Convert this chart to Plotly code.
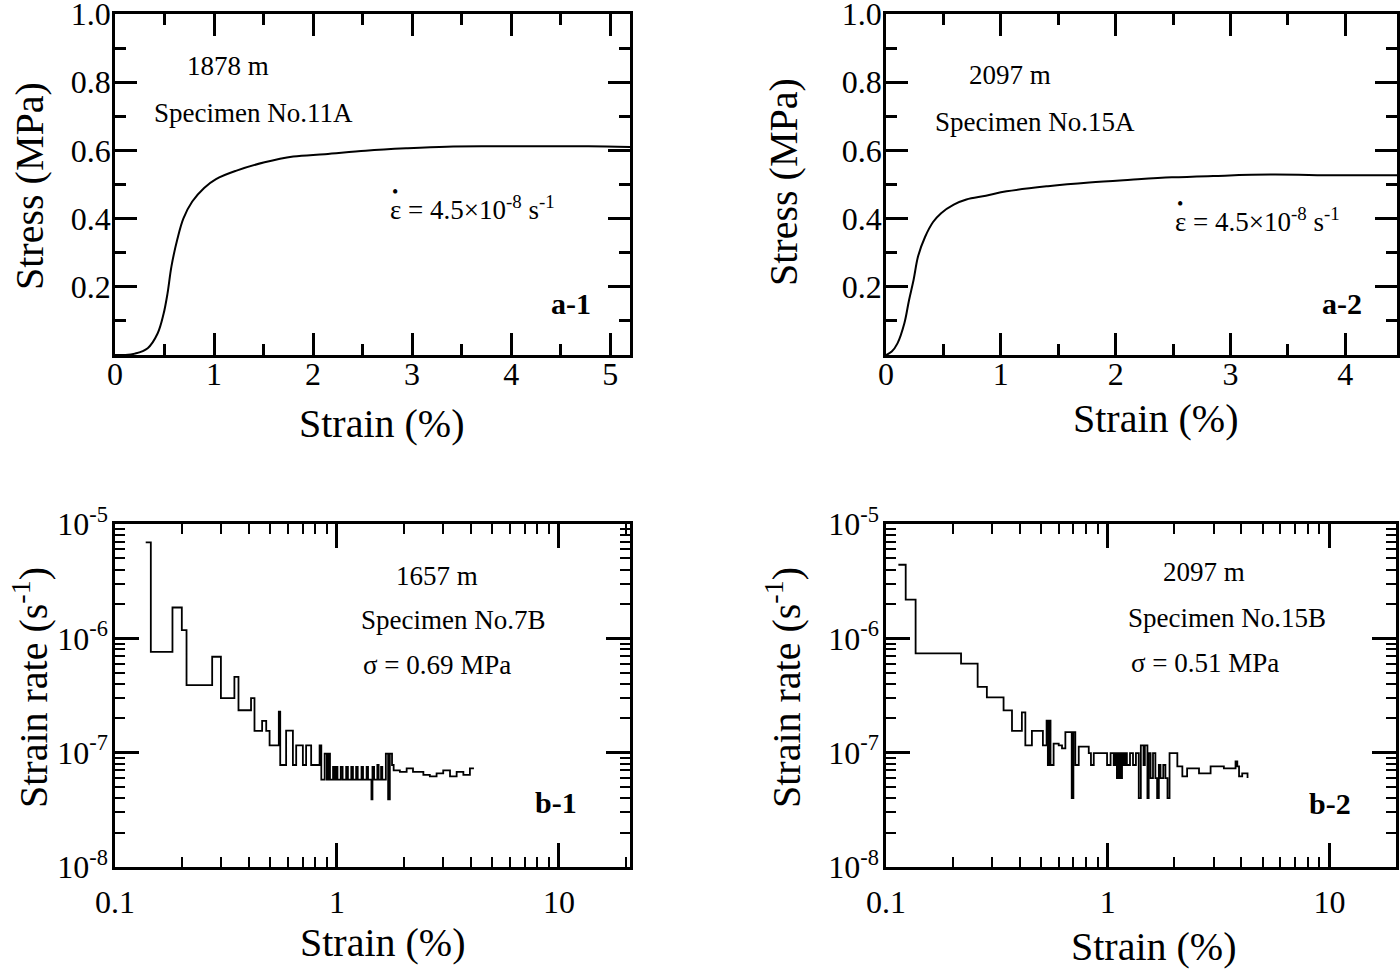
import plotly.graph_objects as go

# ---- data ----
a1_strain = [0, 0.1, 0.2, 0.33, 0.43, 0.49, 0.53, 0.57, 0.63, 0.69, 0.78, 0.9, 1.02,
             1.22, 1.51, 1.8, 2.12, 2.53, 2.94, 3.35, 3.8, 4.16, 4.78, 5.2]
a1_stress = [0, 0.0, 0.004, 0.02, 0.063, 0.12, 0.18, 0.26, 0.34, 0.40, 0.45, 0.49, 0.516,
             0.54, 0.565, 0.582, 0.589, 0.599, 0.606, 0.611, 0.612, 0.612, 0.612, 0.61]

a2_strain = [0, 0.05, 0.1, 0.16, 0.2, 0.24, 0.28, 0.34, 0.41, 0.48, 0.59, 0.7, 0.87,
             1.05, 1.41, 1.77, 2.13, 2.49, 2.85, 3.35, 3.92, 4.5]
a2_stress = [0, 0.01, 0.034, 0.093, 0.16, 0.22, 0.29, 0.346, 0.39, 0.416, 0.441, 0.456, 0.467,
             0.48, 0.495, 0.506, 0.514, 0.521, 0.525, 0.529, 0.527, 0.527]

b1_strain = [0.1375, 0.145, 0.1815, 0.20, 0.21, 0.274, 0.30, 0.345, 0.36, 0.41, 0.425,
             0.46, 0.48, 0.497, 0.547, 0.555, 0.57, 0.59, 0.633, 0.655, 0.702, 0.726,
             0.765, 0.835, 0.85, 0.88, 0.90, 0.915, 0.93, 0.96, 0.975, 0.99, 1.005,
             1.04, 1.06, 1.10, 1.12, 1.16, 1.18, 1.22, 1.24, 1.29, 1.31, 1.36, 1.38,
             1.43, 1.445, 1.47, 1.52, 1.54, 1.58, 1.60, 1.66, 1.70, 1.73, 1.77, 1.80,
             1.92, 2.06, 2.20, 2.45, 2.62, 2.81, 3.01, 3.23, 3.46, 3.71, 3.97, 4.14]
b1_rate = [6.9e-6, 7.6e-7, 1.86e-6, 1.18e-6, 3.9e-7, 6.9e-7, 3.0e-7, 4.6e-7, 2.35e-7, 3.0e-7, 1.55e-7,
           1.9e-7, 1.55e-7, 1.16e-7, 2.29e-7, 7.8e-8, 7.8e-8, 1.56e-7, 7.8e-8, 1.16e-7, 7.8e-8, 1.16e-7,
           7.8e-8, 1.16e-7, 5.8e-8, 9.8e-8, 5.8e-8, 9.8e-8, 5.8e-8, 7.5e-8, 5.8e-8, 7.5e-8, 5.8e-8,
           7.5e-8, 5.8e-8, 7.5e-8, 5.8e-8, 7.5e-8, 5.8e-8, 7.5e-8, 5.8e-8, 7.5e-8, 5.8e-8, 7.5e-8, 5.8e-8,
           3.9e-8, 7.5e-8, 5.8e-8, 7.8e-8, 5.8e-8, 7.5e-8, 5.8e-8, 9.8e-8, 3.9e-8, 9.8e-8, 7.8e-8, 7.0e-8,
           6.8e-8, 7.3e-8, 6.8e-8, 6.4e-8, 6.2e-8, 6.6e-8, 7.0e-8, 6.2e-8, 6.8e-8, 6.4e-8, 7.3e-8, 7.3e-8]

b2_strain = [0.1137, 0.1227, 0.136, 0.218, 0.259, 0.285, 0.339, 0.37, 0.41, 0.425, 0.455,
             0.51, 0.53, 0.537, 0.545, 0.552, 0.57, 0.601, 0.622, 0.644, 0.688, 0.70,
             0.714, 0.74, 0.821, 0.84, 0.865, 0.993, 1.03, 1.064, 1.08, 1.10, 1.12,
             1.14, 1.16, 1.18, 1.20, 1.22, 1.26, 1.30, 1.34, 1.38, 1.41, 1.45, 1.47,
             1.51, 1.53, 1.56, 1.60, 1.64, 1.67, 1.70, 1.73, 1.78, 1.82, 1.86, 1.90,
             2.06, 2.17, 2.28, 2.58, 2.91, 3.34, 3.77, 3.84, 3.91, 4.04, 4.27]
b2_rate = [4.4e-6, 2.18e-6, 7.4e-7, 6.0e-7, 3.76e-7, 3.04e-7, 2.34e-7, 1.55e-7, 2.25e-7, 1.16e-7, 1.55e-7,
           1.16e-7, 1.91e-7, 7.8e-8, 1.91e-7, 7.8e-8, 1.2e-7, 1.16e-7, 1.09e-7, 1.51e-7, 4.0e-8, 1.51e-7,
           7.8e-8, 1.13e-7, 9.9e-8, 7.8e-8, 9.9e-8, 7.8e-8, 9.9e-8, 7.8e-8, 9.9e-8, 6.0e-8, 9.9e-8,
           6.0e-8, 9.9e-8, 7.8e-8, 9.9e-8, 7.8e-8, 9.9e-8, 7.8e-8, 9.9e-8, 4.0e-8, 1.16e-7, 7.8e-8, 1.16e-7,
           4.0e-8, 9.9e-8, 6.0e-8, 9.9e-8, 6.0e-8, 4.0e-8, 7.8e-8, 6.0e-8, 7.8e-8, 6.0e-8, 4.0e-8, 9.9e-8,
           7.6e-8, 6.2e-8, 7.3e-8, 6.6e-8, 7.6e-8, 7.3e-8, 8.4e-8, 7.6e-8, 6.2e-8, 6.6e-8, 6.0e-8]

stress_ticks = [0.2, 0.4, 0.6, 0.8, 1.0]
stress_labels = ["0.2", "0.4", "0.6", "0.8", "1.0"]
rate_ticks = [1e-8, 1e-7, 1e-6, 1e-5]
rate_labels = ["10<sup>-8</sup>", "10<sup>-7</sup>", "10<sup>-6</sup>", "10<sup>-5</sup>"]
log_strain_ticks = [0.1, 1, 10]
log_strain_labels = ["0.1", "1", "10"]

W, H = 1400, 971
SERIF = "Liberation Serif, Times New Roman, serif"


def px(x):
    return x / W


def py(y):
    return 1 - y / H


fig = go.Figure()
fig.add_trace(go.Scatter(x=a1_strain, y=a1_stress, mode="lines", line=dict(color="black", width=2, shape="spline"),
                         xaxis="x", yaxis="y"))
fig.add_trace(go.Scatter(x=a2_strain, y=a2_stress, mode="lines", line=dict(color="black", width=2, shape="spline"),
                         xaxis="x2", yaxis="y2"))
fig.add_trace(go.Scatter(x=b1_strain, y=b1_rate, mode="lines", line=dict(color="black", width=1.8, shape="hv"),
                         xaxis="x3", yaxis="y3"))
fig.add_trace(go.Scatter(x=b2_strain, y=b2_rate, mode="lines", line=dict(color="black", width=1.8, shape="hv"),
                         xaxis="x4", yaxis="y4"))

common = dict(showline=True, linecolor="black", linewidth=2.5, mirror="ticks", ticks="inside",
              tickcolor="black", tickwidth=2.5, ticklen=22, showgrid=False, zeroline=False,
              automargin=False, ticklabeloverflow="allow",
              tickfont=dict(family=SERIF, size=32, color="black"))
minor_lin = dict(ticks="inside", ticklen=11, tickcolor="black", tickwidth=2.5, showgrid=False)
minor_log = dict(ticks="inside", ticklen=10, tickcolor="black", tickwidth=2, showgrid=False, dtick="D1")

top = [py(355), py(14)]
bot = [py(867), py(524)]

fig.update_layout(
    xaxis=dict(common, domain=[px(115), px(630)], range=[0, 5.2], tickvals=[0, 1, 2, 3, 4, 5],
               minor=dict(minor_lin, dtick=0.5), anchor="y", ticklabelstandoff=-11),
    yaxis=dict(common, domain=top, range=[0, 1.0], tickvals=stress_ticks, ticktext=stress_labels,
               minor=dict(minor_lin, dtick=0.1), anchor="x", ticklabelstandoff=-5),
    xaxis2=dict(common, domain=[px(886), px(1397)], range=[0, 4.45], tickvals=[0, 1, 2, 3, 4],
                minor=dict(minor_lin, dtick=0.5), anchor="y2", ticklabelstandoff=-11),
    yaxis2=dict(common, domain=top, range=[0, 1.0], tickvals=stress_ticks, ticktext=stress_labels,
                minor=dict(minor_lin, dtick=0.1), anchor="x2", ticklabelstandoff=-5),
    xaxis3=dict(common, type="log", domain=[px(115), px(630)], range=[-1, 1.32], tickvals=log_strain_ticks,
                ticktext=log_strain_labels, ticklen=24, minor=minor_log, anchor="y3", ticklabelstandoff=5),
    yaxis3=dict(common, type="log", domain=bot, range=[-8, -5], tickvals=rate_ticks, ticktext=rate_labels,
                ticklen=24, minor=minor_log, anchor="x3", ticklabelstandoff=-2),
    xaxis4=dict(common, type="log", domain=[px(886), px(1396)], range=[-1, 1.3], tickvals=log_strain_ticks,
                ticktext=log_strain_labels, ticklen=24, minor=minor_log, anchor="y4", ticklabelstandoff=5),
    yaxis4=dict(common, type="log", domain=bot, range=[-8, -5], tickvals=rate_ticks, ticktext=rate_labels,
                ticklen=24, minor=minor_log, anchor="x4", ticklabelstandoff=-2),
    width=W, height=H, margin=dict(l=0, r=0, t=0, b=0, autoexpand=False),
    paper_bgcolor="white", plot_bgcolor="white", showlegend=False,
    font=dict(family=SERIF, color="black"),
)


def note(text, x, y, size=27, bold=False, angle=0, xanchor="center"):
    if bold:
        text = "<b>" + text + "</b>"
    fig.add_annotation(text=text, x=px(x), y=py(y), xref="paper", yref="paper", showarrow=False,
                       xanchor=xanchor, yanchor="middle", textangle=angle,
                       font=dict(family=SERIF, size=size, color="black"))


# axis titles
note("Stress (MPa)", 30, 186, size=40, angle=-90)
note("Stress (MPa)", 783, 182, size=40, angle=-90)
note("Strain rate (s<sup>-1</sup>)", 30, 688, size=40, angle=-90)
note("Strain rate (s<sup>-1</sup>)", 783, 688, size=40, angle=-90)
note("Strain (%)", 382, 424, size=40)
note("Strain (%)", 1156, 418, size=40)
note("Strain (%)", 383, 942, size=40)
note("Strain (%)", 1154, 946, size=40)

# panel texts
eps = "\u03b5 = 4.5\u00d710<sup>-8</sup> s<sup>-1</sup>"
note("1878 m", 228, 66)
note("Specimen No.11A", 253, 113)
note(eps, 388, 208, xanchor="left")
note("\u2022", 395, 192, size=18)
note("a-1", 571, 304, size=30, bold=True)

note("2097 m", 1010, 75)
note("Specimen No.15A", 1035, 122)
note(eps, 1173, 220, xanchor="left")
note("\u2022", 1180, 204, size=18)
note("a-2", 1342, 303, size=30, bold=True)

note("1657 m", 437, 576)
note("Specimen No.7B", 453, 620)
note("\u03c3 = 0.69 MPa", 437, 665)
note("b-1", 556, 802, size=30, bold=True)

note("2097 m", 1204, 572)
note("Specimen No.15B", 1227, 618)
note("\u03c3 = 0.51 MPa", 1205, 663)
note("b-2", 1330, 803, size=30, bold=True)

fig.write_html("out.html", config={"displayModeBar": False},
               post_script="document.body.style.margin='0';")
